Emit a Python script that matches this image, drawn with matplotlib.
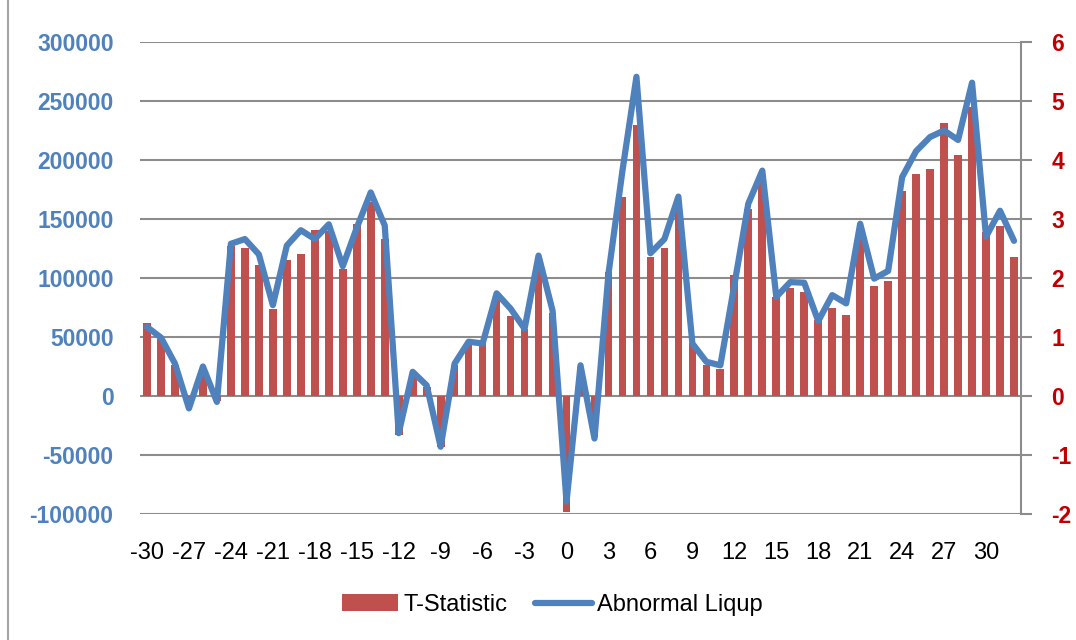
import matplotlib.pyplot as plt
import numpy as np
from matplotlib.patches import Rectangle

days = list(range(-30, 33))

t_statistic = [
    62000, 48000, 26200, -8000, 18000, -4000, 126800, 125600, 110700, 74100,
    115500, 120600, 141100, 140000, 107600, 145900, 164200, 132700, -33000, 16300,
    7900, -43400, 26200, 43100, 44500, 83900, 67600, 57200, 114900, 70400,
    -98300, 24800, -34400, 105100, 168500, 229900, 117700, 125600, 157200, 44500,
    26200, 22500, 102800, 158600, 185000, 83900, 91500, 88200, 64200, 74900,
    69000, 133000, 93200, 97500, 174100, 188200, 192700, 231300, 204000, 244500,
    138900, 144000, 117500,
]

abnormal_liqup = [
    1.17, 0.99, 0.55, -0.21, 0.50, -0.10, 2.58, 2.66, 2.40, 1.54,
    2.55, 2.81, 2.66, 2.91, 2.20, 2.85, 3.45, 2.89, -0.63, 0.41,
    0.18, -0.86, 0.55, 0.92, 0.89, 1.74, 1.48, 1.14, 2.38, 1.45,
    -1.79, 0.52, -0.72, 2.07, 3.82, 5.41, 2.42, 2.66, 3.38, 0.89,
    0.58, 0.52, 1.88, 3.26, 3.82, 1.68, 1.93, 1.92, 1.27, 1.71,
    1.57, 2.92, 1.99, 2.12, 3.71, 4.15, 4.39, 4.50, 4.34, 5.31,
    2.70, 3.14, 2.63,
]

left_ticks = [-100000, -50000, 0, 50000, 100000, 150000, 200000, 250000, 300000]
right_ticks = [-2, -1, 0, 1, 2, 3, 4, 5, 6]
x_ticks = list(range(-30, 31, 3))

bar_color = '#C0504D'
line_color = '#4F81BD'
grid_color = '#8C8C8C'

plt.rcParams['font.family'] = ['Liberation Sans Narrow', 'Liberation Sans', 'DejaVu Sans']

fig = plt.figure(figsize=(10.76, 6.4), dpi=100)
ax = fig.add_axes([140 / 1076, 1 - 514 / 640, (1021 - 140) / 1076, (514 - 42) / 640])

# outer chart border
fig.patches.append(Rectangle((8 / 1076, -0.01), 1.2, 1.02, transform=fig.transFigure,
                             fill=False, edgecolor='#A6A6A6', linewidth=1.5))

ax.bar(days, t_statistic, width=0.55, color=bar_color, zorder=2, label='T-Statistic')
ax.set_ylim(-100000, 300000)
ax.set_yticks(left_ticks)
ax.set_yticklabels([str(v) for v in left_ticks], color=line_color, fontweight='bold',
                   fontsize=16.5, family=['Liberation Sans', 'DejaVu Sans'])
ax.set_xlim(-30.5, 32.5)
ax.set_xticks(x_ticks)
ax.set_xticklabels([str(v) for v in x_ticks], fontsize=17)
ax.tick_params(axis='x', length=0, pad=20)
ax.tick_params(axis='y', length=0, pad=19)
ax.grid(axis='y', color=grid_color, linewidth=1.5, zorder=0)
for s in ax.spines.values():
    s.set_visible(False)

ax2 = ax.twinx()
ax2.plot(days, abnormal_liqup, color=line_color, linewidth=4.5, zorder=3,
         solid_joinstyle='round', solid_capstyle='round', label='Abnormal Liqup')
ax2.set_ylim(-2, 6)
ax2.set_yticks(right_ticks)
ax2.set_yticklabels([str(v) for v in right_ticks], color='#C00000', fontweight='bold',
                    fontsize=16.5, family=['Liberation Sans', 'DejaVu Sans'])
ax2.tick_params(axis='y', length=8, width=1.5, color=grid_color, pad=14)
for name, s in ax2.spines.items():
    s.set_visible(name == 'right')
ax2.spines['right'].set_color(grid_color)
ax2.spines['right'].set_linewidth(1.5)

h1, l1 = ax.get_legend_handles_labels()
h2, l2 = ax2.get_legend_handles_labels()
fig.legend(h1 + h2, l1 + l2, loc='center', bbox_to_anchor=(552 / 1076, 1 - 605 / 640),
           ncol=2, frameon=False, fontsize=17, handlelength=2.4, columnspacing=1.2,
           handletextpad=0.2)

fig.savefig('out.png', dpi=100)
